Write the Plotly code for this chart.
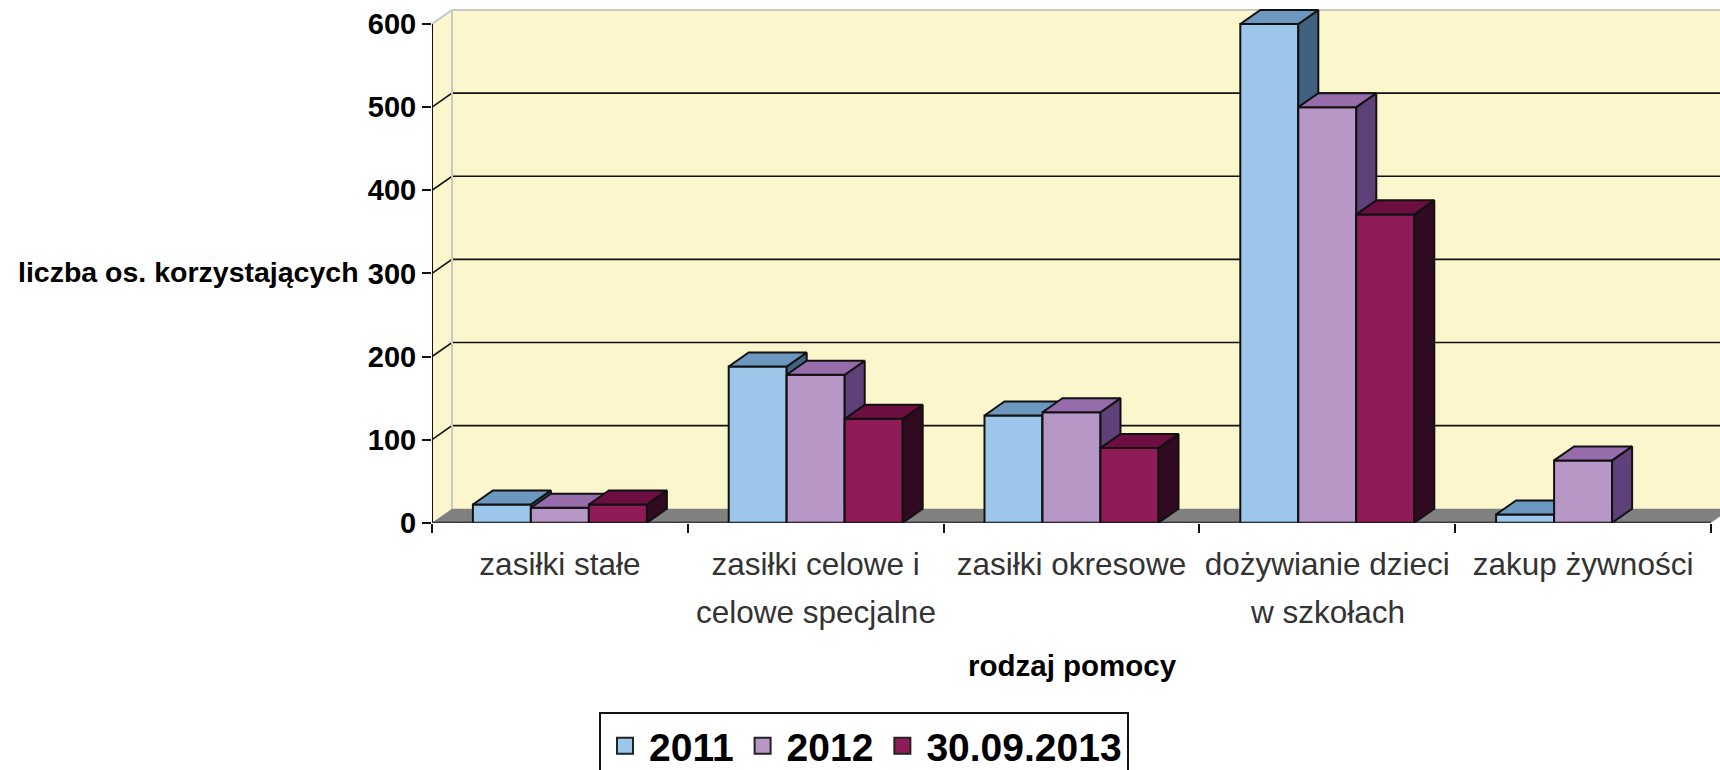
import plotly.graph_objects as go

label_line1 = ["zasiłki stałe", "zasiłki celowe i", "zasiłki okresowe", "dożywianie dzieci", "zakup żywności"]
label_line2 = ["", "celowe specjalne", "", "w szkołach", ""]
series_names = ["2011", "2012", "30.09.2013"]
values_2011 = [22, 188, 129, 600, 10]
values_2012 = [18, 178, 133, 500, 75]
values_2013 = [22, 125, 90, 371, None]
y_ticks = [0, 100, 200, 300, 400, 500, 600]

all_values = [values_2011, values_2012, values_2013]
front = ["#9DC7EA", "#B797C6", "#901C57"]
top = ["#6C97BF", "#976CAB", "#6C0E3F"]
side = ["#416180", "#5F417A", "#300A20"]

W, H = 1720, 770
LEGEND_PUSH = 75      # bottom margin that the legend reserves for itself
P = H - LEGEND_PUSH   # height of the paper area above it
X0, X1, Y0, Y1 = 432, 1711, 522, 24
CAT_PX = (X1 - X0) / 5
VAL_PX = (Y0 - Y1) / 600
DX = 20 / CAT_PX      # depth offset, in category units
DY = 14 / VAL_PX      # depth offset, in value units
BAR_W = 58 / CAT_PX
GROUP_W = BAR_W * 3
N = len(label_line1)
XMAX = (W - X0) / CAT_PX   # axis ranges run to the page edge so the 3D walls are not clipped
YMAX = Y0 / VAL_PX
INK = "#111111"
WALL = "#FBF6CC"
EDGE = "#C8C8C8"
FLOOR = "#808080"

fig = go.Figure()


def poly(xs, ys, fill, color, width, yaxis="y"):
    return go.Scatter(x=xs, y=ys, mode="lines", fill="toself", fillcolor=fill,
                      line=dict(color=color, width=width), hoverinfo="skip",
                      showlegend=False, cliponaxis=False, yaxis=yaxis)


xr = N + DX
ymax = y_ticks[-1]
# back wall and side wall
fig.add_trace(poly([DX, xr, xr, DX, DX], [DY, DY, ymax + DY, ymax + DY, DY], WALL, WALL, 0))
fig.add_trace(poly([0, DX, DX, 0, 0], [0, DY, ymax + DY, ymax, 0], WALL, WALL, 0))
# floor
fig.add_trace(poly([0, DX, xr, N, 0], [0, DY, DY, 0, 0], FLOOR, FLOOR, 0))
# grid lines, running along the side wall and the back wall
gx, gy = [], []
for v in y_ticks[1:-1]:
    gx += [0, DX, xr, None]
    gy += [v, v + DY, v + DY, None]
fig.add_trace(go.Scatter(x=gx, y=gy, mode="lines", line=dict(color=INK, width=1.6),
                         hoverinfo="skip", showlegend=False, cliponaxis=False))
# wall edges
fig.add_trace(go.Scatter(x=[0, DX, xr, None, DX, DX], y=[ymax, ymax + DY, ymax + DY, None, DY, ymax + DY],
                         mode="lines", line=dict(color=EDGE, width=2), hoverinfo="skip",
                         showlegend=False, cliponaxis=False))
# axis lines (the axis ranges run on past them)
fig.add_trace(go.Scatter(x=[0, 0, N], y=[ymax, 0, 0], mode="lines", line=dict(color=INK, width=2),
                         hoverinfo="skip", showlegend=False, cliponaxis=False))

for i, (name, vals) in enumerate(zip(series_names, all_values)):
    ya = f"y{i + 2}"
    tx, ty, sx, sy = [], [], [], []
    for k, v in enumerate(vals):
        if v is None:
            continue
        a = k + 0.5 - GROUP_W / 2 + i * BAR_W
        b = a + BAR_W
        tx += [a, a + DX, b + DX, b, a, None]
        ty += [v, v + DY, v + DY, v, v, None]
        sx += [b, b + DX, b + DX, b, b, None]
        sy += [v, v + DY, DY, 0, v, None]
    fig.add_trace(go.Bar(x=[k + 0.5 for k in range(N)], y=vals, name=name, width=BAR_W,
                         offset=-GROUP_W / 2 + i * BAR_W, marker=dict(color=front[i], line=dict(color=INK, width=2)),
                         showlegend=False, cliponaxis=False, yaxis=ya))
    fig.add_trace(poly(sx, sy, side[i], INK, 2, ya))
    fig.add_trace(poly(tx, ty, top[i], INK, 2, ya))
    # legend entry
    fig.add_trace(go.Scatter(x=[None], y=[None], mode="markers", name=name, yaxis=ya,
                             marker=dict(symbol="square", size=21, color=front[i], line=dict(color="#222222", width=2))))

annotations = [
    dict(text="liczba os. korzystających", xref="paper", yref="paper", x=16 / W, y=1 - 272 / P,
         xanchor="left", yanchor="middle", showarrow=False,
         font=dict(family="Liberation Sans", size=28.5, color="#000000", weight="bold")),
    dict(text="rodzaj pomocy", xref="paper", yref="paper", x=1072.5 / W, y=1 - 665 / P,
         xanchor="center", yanchor="middle", showarrow=False,
         font=dict(family="Liberation Sans", size=29.5, color="#000000", weight="bold")),
]
for k, line in enumerate(label_line2):
    if line:
        annotations.append(dict(text=line, xref="x", yref="paper", x=k + 0.5, y=1 - 611 / P,
                                xanchor="center", yanchor="middle", showarrow=False,
                                font=dict(family="Liberation Sans", size=31.5, color="#333333")))

dom_x = [X0 / W, 1]
dom_y = [(P - Y0) / P, 1]
overlay_y = dict(overlaying="y", range=[0, YMAX], visible=False, domain=dom_y)
fig.update_layout(
    width=W, height=H, margin=dict(l=0, r=0, t=0, b=0, pad=0), autosize=False,
    paper_bgcolor="white", plot_bgcolor="rgba(0,0,0,0)",
    font=dict(family="Liberation Sans"),
    xaxis=dict(domain=dom_x, range=[0, XMAX], showgrid=False, zeroline=False, showline=False,
               tickmode="array", tickvals=[k + 0.5 for k in range(N)], ticktext=label_line1, ticks="",
               ticklabelstandoff=20,
               tickfont=dict(family="Liberation Sans", size=31.5, color="#333333"),
               minor=dict(ticks="outside", tick0=0, dtick=1, ticklen=9, tickwidth=2, tickcolor=INK, showgrid=False)),
    yaxis=dict(domain=dom_y, range=[0, YMAX], showgrid=False, zeroline=False, showline=False,
               tickmode="array", tickvals=y_ticks,
               ticks="outside", ticklen=9, tickwidth=2, tickcolor=INK, ticklabelstandoff=0,
               tickfont=dict(family="Liberation Sans", size=29, color="#000000", weight="bold")),
    yaxis2=overlay_y, yaxis3=overlay_y, yaxis4=overlay_y,
    legend=dict(orientation="h", xref="container", yref="container", x=599 / W, y=1 - 712 / H,
                xanchor="left", yanchor="top", itemwidth=38,
                bgcolor="white", bordercolor=INK, borderwidth=2,
                font=dict(family="Liberation Sans", size=39, color="#000000", weight="bold")),
    annotations=annotations,
    hovermode=False,
)
fig.write_html("out.html", config={"displayModeBar": False},
               post_script="document.body.style.margin='0';document.body.style.overflow='hidden';")
